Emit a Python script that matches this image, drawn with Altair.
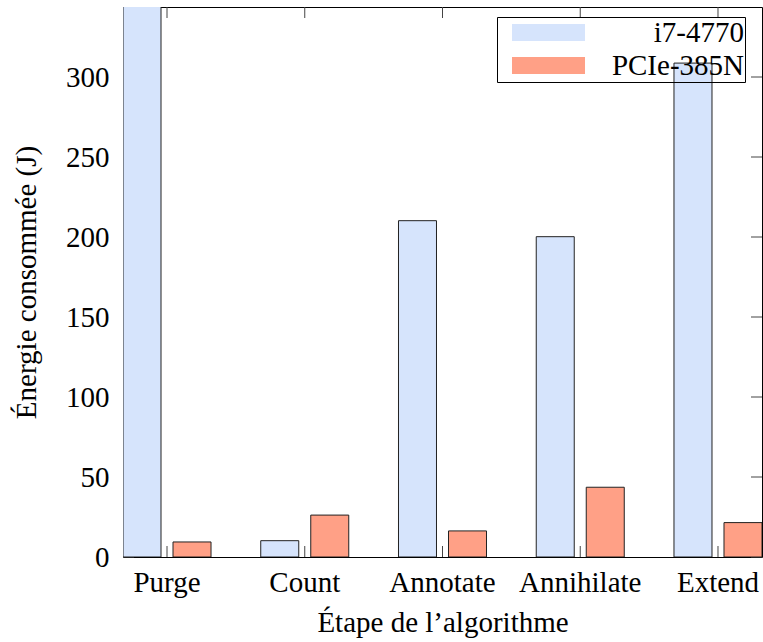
import altair as alt
import pandas as pd

# Energy consumed per algorithm stage, for each device (J)
stages = ["Purge", "Count", "Annotate", "Annihilate", "Extend"]
devices = ["i7-4770", "PCIe-385N"]
i7_energy = [500, 10.2, 210.2, 200.2, 308.7]
pcie_energy = [9.4, 26.2, 16.3, 43.6, 21.5]
y_ticks = [0, 50, 100, 150, 200, 250, 300]
colors = ["#d6e4fc", "#ffa086"]

FONT = "'Liberation Serif', 'Times New Roman', serif"
FS = 29
W, H = 639, 550
YMAX = 343.75

rows = []
for s, a, b in zip(stages, i7_energy, pcie_energy):
    rows.append({"stage": s, "device": devices[0], "energy": a})
    rows.append({"stage": s, "device": devices[1], "energy": b})
df = pd.DataFrame(rows)

text_style = dict(
    labelFont=FONT,
    titleFont=FONT,
    labelFontSize=FS,
    titleFontSize=FS,
    labelColor="black",
    titleColor="black",
    titleFontWeight="normal",
    labelFontWeight="normal",
)

x_scale = alt.Scale(paddingInner=0.361, paddingOuter=0)
y_scale = alt.Scale(domain=[0, YMAX], nice=False, zero=True)
x_axis = alt.Axis(
    title="Étape de l’algorithme",
    labelAngle=0,
    ticks=False,
    domain=False,
    labelPadding=11,
    titlePadding=11,
    **text_style,
)
y_axis = alt.Axis(
    title="Énergie consommée (J)",
    values=y_ticks,
    ticks=False,
    domain=False,
    grid=False,
    labelPadding=14,
    titlePadding=24,
    **text_style,
)


def x_enc():
    return alt.X("stage:N", sort=stages, scale=x_scale, axis=x_axis)


def y_enc(field):
    return alt.Y(field, scale=y_scale, axis=y_axis)


bars = (
    alt.Chart(df)
    .mark_bar(clip=True, stroke="#222222", strokeWidth=1)
    .encode(
        x=x_enc(),
        xOffset=alt.XOffset(
            "device:N", sort=devices, scale=alt.Scale(paddingInner=0.24, paddingOuter=0)
        ),
        y=y_enc("energy:Q"),
        color=alt.Color(
            "device:N",
            sort=devices,
            scale=alt.Scale(domain=devices, range=colors),
            legend=alt.Legend(title=None),
        ),
    )
)

# inward tick marks on all four sides of the frame
ytick_df = pd.DataFrame({"energy": y_ticks})
xtick_df = pd.DataFrame({"stage": stages})
tick_style = dict(color="#444444", strokeWidth=1)

left_ticks = alt.Chart(ytick_df).mark_rule(**tick_style).encode(
    y=y_enc("energy:Q"), x=alt.value(0), x2=alt.value(11)
)
right_ticks = alt.Chart(ytick_df).mark_rule(**tick_style).encode(
    y=y_enc("energy:Q"), x=alt.value(W - 11), x2=alt.value(W)
)
top_ticks = alt.Chart(xtick_df).mark_rule(**tick_style).encode(
    x=x_enc(), y=alt.value(0), y2=alt.value(11)
)
bottom_ticks = alt.Chart(xtick_df).mark_rule(**tick_style).encode(
    x=x_enc(), y=alt.value(H - 11), y2=alt.value(H)
)

chart = (
    alt.layer(left_ticks, right_ticks, top_ticks, bottom_ticks, bars)
    .properties(
        width=W,
        height=H,
        autosize="none",
        padding={"left": 123, "top": 7, "right": 1, "bottom": 85},
    )
    .configure(font=FONT)
    .configure_axis(labelFont=FONT, titleFont=FONT)
    .configure_view(stroke="black", strokeWidth=1)
    .configure_legend(
        orient="none",
        legendX=374,
        legendY=10,
        direction="vertical",
        strokeColor="black",
        fillColor="transparent",
        padding=1,
        # wide flat swatch: layout size is 17 px, drawn 73 px wide
        symbolType="M-4.294,-1H4.294V1H-4.294Z",
        symbolSize=289,
        symbolStrokeWidth=0,
        symbolOffset=36,
        symbolOpacity=1,
        labelFont=FONT,
        labelFontSize=FS,
        labelColor="black",
        labelAlign="right",
        labelOffset=181,
        rowPadding=3,
        labelLimit=400,
    )
)

chart.save("out.html", embed_options={"renderer": "svg", "actions": False})
